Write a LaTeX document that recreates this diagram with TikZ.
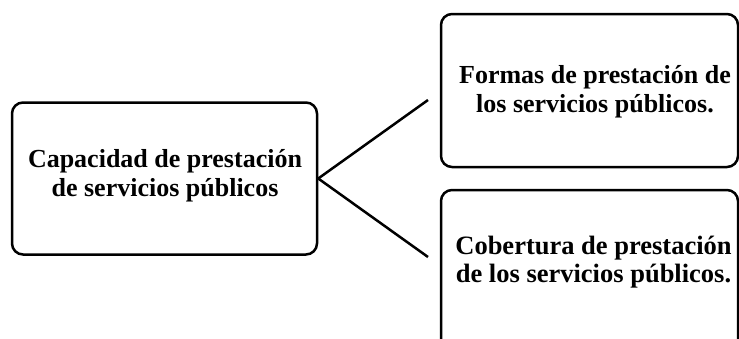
\documentclass[tikz,border=0pt]{standalone}
\usepackage{fontspec}
\setmainfont{Liberation Serif}
\begin{document}
\begin{tikzpicture}[x=1pt,y=-1pt,
  box/.style={draw=black, line width=2.5pt, rounded corners=11pt, inner sep=0pt},
  lbl/.style={align=center, font=\fontsize{26}{29}\selectfont\bfseries, inner sep=0pt},
  conn/.style={line width=2.5pt}]
\useasboundingbox (0,0) rectangle (739,338);
\clip (0,0) rectangle (739,338);
\node[box, minimum width=305pt, minimum height=152pt] (cap) at (164.5,178.5) {};
\node[lbl] (capt) at (165,176) {Capacidad de prestación\\de servicios públicos};
\node[box, minimum width=297pt, minimum height=153pt] (formas) at (589.5,90.5) {};
\node[lbl] (formast) at (595,91.5) {Formas de prestación de\\los servicios públicos.};
\node[box, minimum width=297pt, minimum height=200pt] (cob) at (589.5,290) {};
\node[lbl, font=\fontsize{26.5}{28}\selectfont\bfseries] (cobt) at (593.5,262) {Cobertura de prestación\\de los servicios públicos.};
\coordinate (t1) at (428,100);
\coordinate (t2) at (428,257);
\draw[conn] (cap.east) -- (t1);
\draw[conn] (cap.east) -- (t2);
\end{tikzpicture}
\end{document}
